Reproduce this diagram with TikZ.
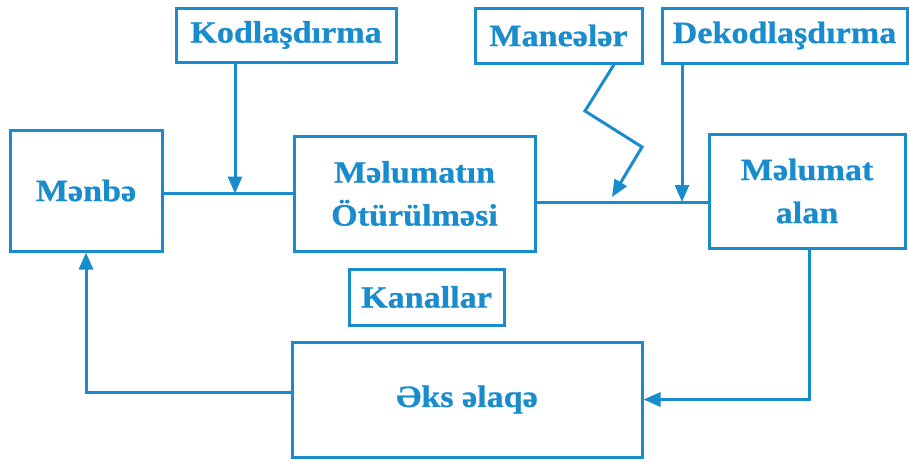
\documentclass[tikz,border=0pt]{standalone}
\usepackage{fontspec}
\setmainfont{Liberation Serif}[FakeStretch=1.1, BoldFeatures={FakeBold=0.8}]
\usetikzlibrary{arrows.meta}
\definecolor{ink}{RGB}{25,140,205}
\begin{document}
\begin{tikzpicture}[x=1pt,y=-1pt,
  box/.style={draw=ink, line width=3pt, inner sep=0pt, align=center,
    text=ink, font=\fontsize{31}{43}\selectfont\bfseries},
  link/.style={draw=ink, line width=3pt},
  arr/.style={link, -{Triangle[length=17pt,width=14pt]}}]
\useasboundingbox (0,0) rectangle (909,461);

% blocks
\node[box, minimum width=220pt, minimum height=54pt]  (kod)  at (286,35)    {Kodla\c{s}d\i rma};
\node[box, minimum width=167pt, minimum height=55pt]  (man)  at (558.5,35.5) {Mane\char"0259l\char"0259r};
\node[box, minimum width=245pt, minimum height=55pt]  (dek)  at (784.5,35.5) {Dekodla\c{s}d\i rma};
\node[box, minimum width=152pt, minimum height=121pt] (menb) at (86,190.5)  {M\char"0259nb\char"0259};
\node[box, minimum width=241pt, minimum height=115pt] (otur) at (414.5,193.5) {M\char"0259lumat\i n\\\"Ot\"ur\"ulm\char"0259si};
\node[box, minimum width=196pt, minimum height=114pt] (alan) at (807,191)   {M\char"0259lumat\\alan};
\node[box, minimum width=155pt, minimum height=56pt]  (kan)  at (426.5,297)  {Kanallar};
\node[box, minimum width=350pt, minimum height=115pt] (eks)  at (467,399.5)  {\char"018Fks \char"0259laq\char"0259};

% helper positions
\coordinate (chan) at (0,202);
\coordinate (kodx) at (235,0);
\coordinate (dekx) at (682,0);
\coordinate (z0) at (614,0);
\coordinate (z1) at (585,111);
\coordinate (z2) at (642,147);
\coordinate (z3) at (612,197);

% connections
\draw[link] (menb.east |- otur.west) -- (otur.west);
\draw[arr] (kod.south -| kodx) -- (kodx |- otur.west);
\draw[link] (otur.east |- chan) -- (alan.west |- chan);
\draw[arr] (dek.south -| dekx) -- (dekx |- chan);
\draw[arr] (man.south -| z0) -- (z1) -- (z2) -- (z3);
\draw[arr] ([yshift=7.5pt]eks.west) -| (menb.south);
\draw[arr] ([xshift=2pt]alan.south) |- (eks.east);
\end{tikzpicture}
\end{document}
